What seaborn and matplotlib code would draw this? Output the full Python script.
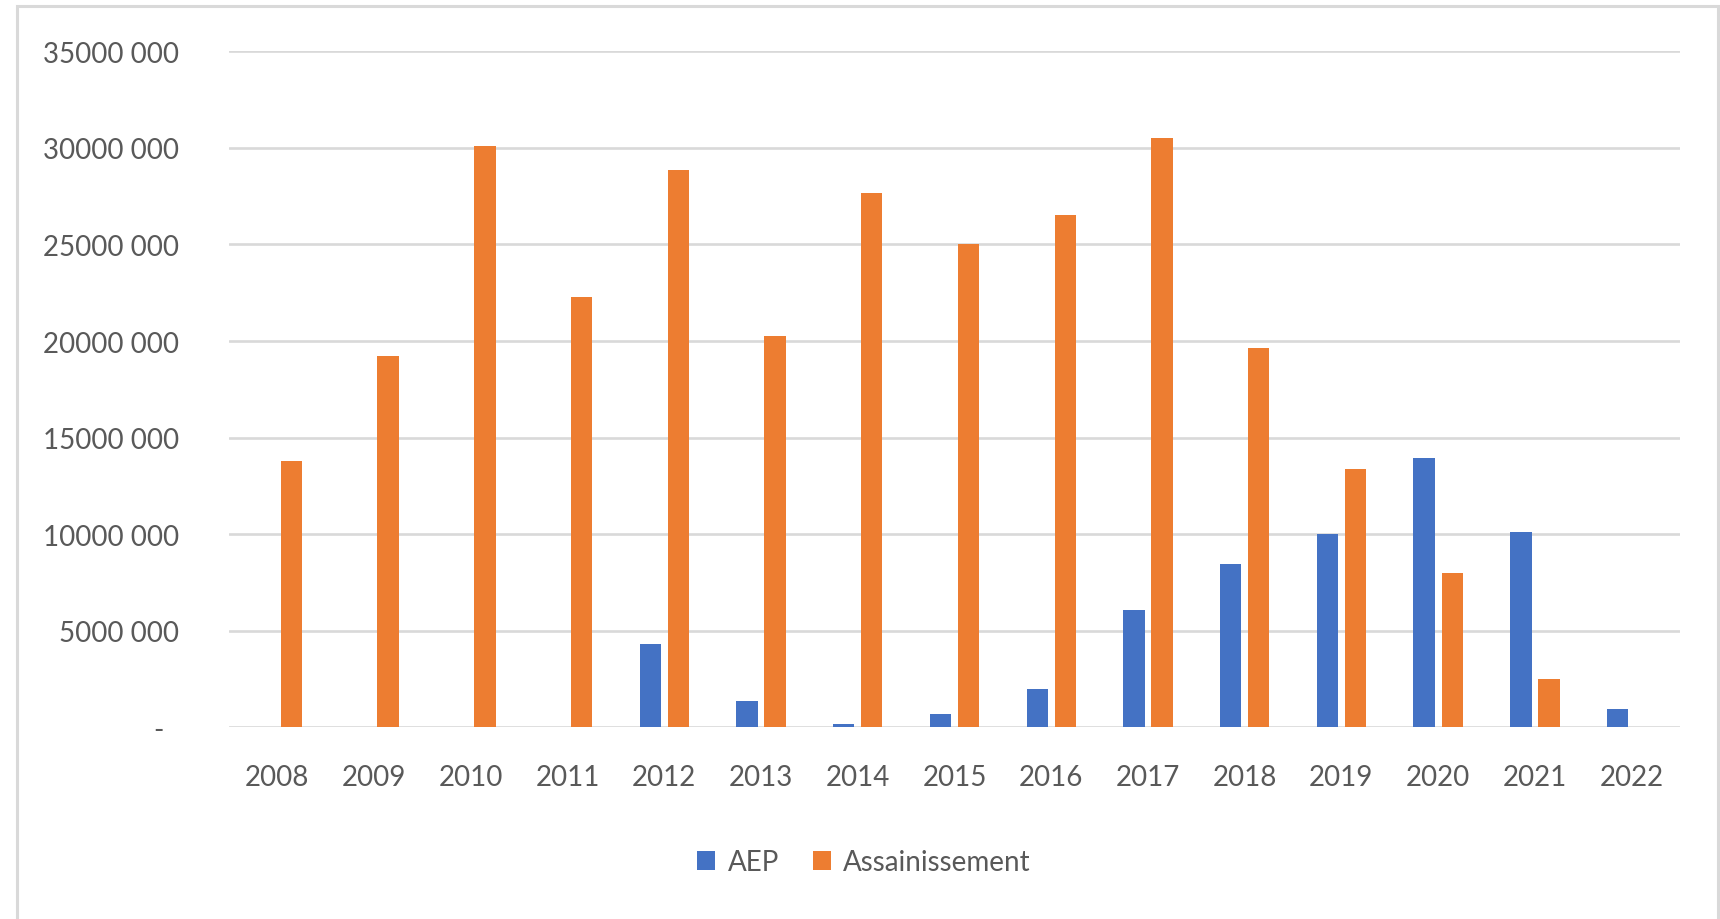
import matplotlib
matplotlib.use("Agg")
import matplotlib.pyplot as plt
from matplotlib.patches import Rectangle
import seaborn as sns
import pandas as pd

years = ["2008", "2009", "2010", "2011", "2012", "2013", "2014", "2015",
         "2016", "2017", "2018", "2019", "2020", "2021", "2022"]
aep = [0, 0, 0, 0, 4300000, 1350000, 190000, 700000, 1980000, 6070000,
       8440000, 10030000, 13930000, 10110000, 940000]
assainissement = [13810000, 19210000, 30080000, 22280000, 28830000, 20270000,
                  27660000, 25040000, 26500000, 30520000, 19640000, 13390000,
                  8010000, 2520000, 0]
series_names = ["AEP", "Assainissement"]
y_ticks = [0, 5000000, 10000000, 15000000, 20000000, 25000000, 30000000, 35000000]
y_tick_labels = ["-  ", "5000 000", "10000 000", "15000 000", "20000 000",
                 "25000 000", "30000 000", "35000 000"]

df = pd.DataFrame({
    "year": years * 2,
    "value": aep + assainissement,
    "serie": [series_names[0]] * len(years) + [series_names[1]] * len(years),
})

sns.set_theme(style="white")
plt.rcParams["font.family"] = ["Lato", "DejaVu Sans"]

W, H = 1720, 920
fig = plt.figure(figsize=(W / 100, H / 100), dpi=100)
fig.patch.set_facecolor("white")
ax = fig.add_axes([229 / W, 1 - 728.4 / H, (1680 - 229) / W, (728.4 - 52.3) / H])

sns.barplot(data=df, x="year", y="value", hue="serie", order=years,
            hue_order=series_names, palette=["#4472C4", "#ED7D31"],
            width=0.58, gap=0.24, linewidth=0, saturation=1, ax=ax)

leg = ax.get_legend()
handles = leg.legend_handles
labels = [t.get_text() for t in leg.texts]
leg.remove()

ax.set_ylim(0, 35000000)
ax.set_xlim(-0.5, len(years) - 0.5)
ax.set_yticks(y_ticks)
ax.set_yticklabels(y_tick_labels)
ax.set_xlabel("")
ax.set_ylabel("")
for s in ax.spines.values():
    s.set_visible(False)
ax.yaxis.grid(True, color="#D9D9D9", linewidth=1.9)
ax.xaxis.grid(False)
ax.set_axisbelow(True)
ax.tick_params(axis="both", length=0, labelsize=20, labelcolor="#595959")
ax.tick_params(axis="y", pad=36)
ax.tick_params(axis="x", pad=26)
for lab in ax.get_yticklabels():
    lab.set_verticalalignment("center_baseline")

fig.legend(handles, labels, loc="center", bbox_to_anchor=(864 / W, 1 - 863 / H),
           ncol=2, frameon=False, fontsize=20, labelcolor="#595959",
           handlelength=0.65, handleheight=0.7, handletextpad=0.45,
           columnspacing=1.2)

fig.patches.append(Rectangle((16.5 / W, -0.05), (1718 - 16.5) / W, 1.05 - 6.5 / H,
                             transform=fig.transFigure, fill=False,
                             edgecolor="#D9D9D9", linewidth=2.2))

fig.savefig("out.png", dpi=100, facecolor="white")
